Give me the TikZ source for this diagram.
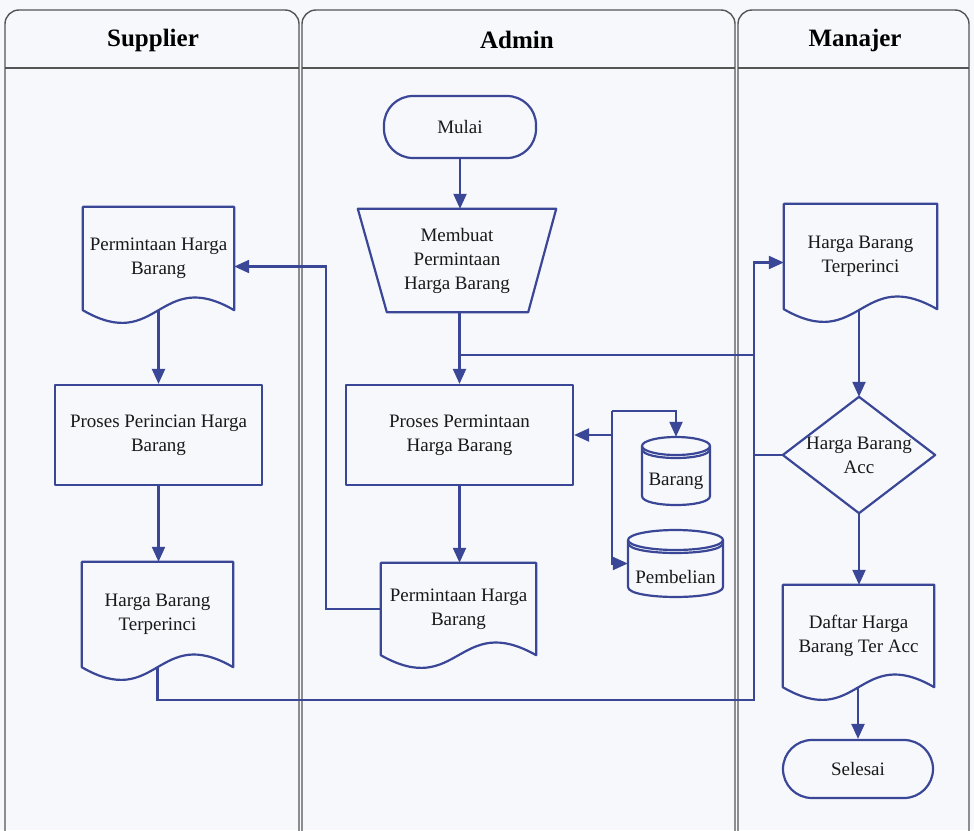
\documentclass[tikz,border=0pt]{standalone}
\usepackage{fontspec}
\setmainfont{Liberation Serif}
\usetikzlibrary{arrows.meta,calc}
\definecolor{flowc}{RGB}{58,70,150}
\definecolor{lanec}{RGB}{85,85,85}
\definecolor{bgc}{RGB}{247,248,252}
\tikzset{
  flow/.style={draw=flowc, line width=2.2pt},
  arr/.style={flow, -{Triangle[length=15pt,width=13pt]}},
  shp/.style={draw=flowc, line width=2.2pt, line join=round},
  txt/.style={font=\fontsize{19}{24}\selectfont, align=center, text=black!90, inner sep=0pt},
  box/.style={txt, shp, rectangle},
  term/.style={box, rounded corners=29pt},
  lane/.style={draw=lanec, line width=1.4pt, rounded corners=14pt},
  head/.style={font=\fontsize{25}{30}\selectfont\bfseries, text=black},
}
\newcommand\docshape[1]{\draw[shp] (#1.south west) -- (#1.north west) -- (#1.north east) -- (#1.south east) .. controls ($(#1.south)+(0,-44)$) and ($(#1.south)+(0,44)$) .. (#1.south west) -- cycle;}
\begin{document}
\begin{tikzpicture}[x=1pt,y=-1pt]
\useasboundingbox (0,0) rectangle (974,830);
\fill[bgc] (0,0) rectangle (974,830);

% lanes
\draw[lane] (5,860) -- (5,10) -- (299,10) -- (299,860);
\draw[lanec, line width=1.4pt] (5,68) -- (299,68);
\draw[lane] (302,860) -- (302,10) -- (735,10) -- (735,860);
\draw[lanec, line width=1.4pt] (302,68) -- (735,68);
\draw[lane] (738,860) -- (738,10) -- (969,10) -- (969,860);
\draw[lanec, line width=1.4pt] (738,68) -- (969,68);
\node[head] (hS) at (153,40) {Supplier};
\node[head] (hA) at (517,40) {Admin};
\node[head] (hM) at (855,40) {Manajer};

% Admin
\node[term, minimum width=152pt, minimum height=62pt] (mulai) at (460,127) {Mulai};
\node[txt, minimum width=198pt, minimum height=103pt] (membuat) at (457,260.5) {Membuat\\Permintaan\\Harga Barang};
\draw[shp] (membuat.north west) -- (membuat.north east) -- ($(membuat.south east)+(-28,0)$) -- ($(membuat.south west)+(29,0)$) -- cycle;
\node[box, minimum width=227pt, minimum height=100pt] (prosesA) at (459.5,435) {Proses Permintaan\\Harga Barang};
\node[txt, minimum width=155pt, minimum height=92pt] (docA) at (458.5,609) {Permintaan Harga\\Barang};
\docshape{docA}

% cylinders
\node[minimum width=68pt, minimum height=68pt, inner sep=0pt] (barang) at (676,471) {};
\draw[shp] (642,446) -- (642,496) .. controls (642,508) and (710,508) .. (710,496) -- (710,446);
\draw[shp] (676,446) ellipse [x radius=34, y radius=9];
\draw[shp] (710,449) .. controls (710,461) and (642,461) .. (642,449);
\node[txt] (barangT) at (676,481) {Barang};

\node[minimum width=95pt, minimum height=67pt, inner sep=0pt] (pembelian) at (675.5,563.5) {};
\draw[shp] (628,540) -- (628,587) .. controls (628,600.3) and (723,600.3) .. (723,587) -- (723,540);
\draw[shp] (675.5,540) ellipse [x radius=47.5, y radius=10];
\draw[shp] (723,543) .. controls (723,556.3) and (628,556.3) .. (628,543);
\node[txt] (pembelianT) at (675.5,577) {Pembelian};

% Supplier
\node[txt, minimum width=151pt, minimum height=103pt] (doc1) at (158.5,258.5) {Permintaan Harga\\Barang};
\docshape{doc1}
\node[box, minimum width=207pt, minimum height=100pt] (procS) at (158.5,435) {Proses Perincian Harga\\Barang};
\node[txt, minimum width=151pt, minimum height=105pt] (doc2) at (157.5,614.5) {Harga Barang\\Terperinci};
\docshape{doc2}

% Manajer
\node[txt, minimum width=153pt, minimum height=105pt] (doc3) at (860.5,256.5) {Harga Barang\\Terperinci};
\docshape{doc3}
\node[txt, minimum width=152pt, minimum height=116pt] (acc) at (859,455) {Harga Barang\\Acc};
\draw[shp] (acc.north) -- (acc.east) -- (acc.south) -- (acc.west) -- cycle;
\node[txt, minimum width=151pt, minimum height=102pt] (doc4) at (858.5,636) {Daftar Harga\\Barang Ter Acc};
\docshape{doc4}
\node[term, minimum width=150pt, minimum height=58pt] (selesai) at (858,769) {Selesai};

% junction coordinates
\coordinate (j1) at (459.5,355);
\coordinate (busB) at (754,700);
\coordinate (xA) at (326,450);
\coordinate (cT) at (612,411);

% connectors
\draw[arr] (mulai.south) -- (mulai.south |- membuat.north);
\draw[arr] (prosesA.north |- membuat.south) -- (prosesA.north);
\draw[flow] (j1) -- (j1 -| busB);
\draw[arr] (prosesA.south) -- (prosesA.south |- docA.north);
\draw[arr] (docA.west) -| (xA) |- ($(doc1.east)+(0,8)$);
\draw[arr] (doc1.south) -- (procS.north);
\draw[arr] (procS.south) -- (procS.south |- doc2.north);
\draw[arr] (doc2.south) |- (busB) |- ($(doc3.west)+(0,6)$);
\draw[flow] (acc.west) -- (acc.west -| busB);
\draw[arr] (acc.north |- doc3.south) -- (acc.north);
\draw[arr] (acc.south) -- (acc.south |- doc4.north);
\draw[arr] (selesai.north |- doc4.south) -- (selesai.north);
\draw[arr] (cT |- prosesA.east) -- (prosesA.east);
\draw[arr] (cT) -| (barang.north);
\draw[arr] (cT) |- (pembelian.west);
\end{tikzpicture}
\end{document}
